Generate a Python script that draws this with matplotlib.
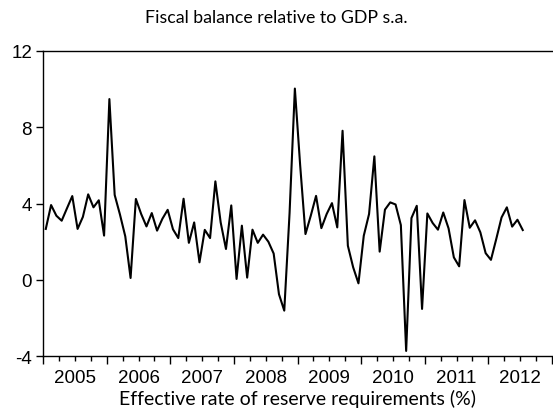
import numpy as np
import matplotlib.pyplot as plt
from matplotlib.ticker import FixedLocator, FixedFormatter

# monthly values, 2005M01 - 2012M07
start_year = 2005
values = [2.67, 3.92, 3.36, 3.10, 3.75, 4.39, 2.67, 3.30, 4.48, 3.80, 4.17, 2.32,
          9.47, 4.45, 3.42, 2.28, 0.10, 4.24, 3.45, 2.80, 3.50, 2.58, 3.20, 3.67,
          2.65, 2.19, 4.25, 1.94, 3.01, 0.92, 2.62, 2.19, 5.16, 3.01, 1.62, 3.90,
          0.05, 2.84, 0.12, 2.63, 1.94, 2.37, 2.00, 1.38, -0.75, -1.61, 3.50, 10.02,
          6.00, 2.40, 3.36, 4.40, 2.71, 3.45, 4.02, 2.75, 7.81, 1.79, 0.66, -0.18,
          2.31, 3.45, 6.47, 1.48, 3.68, 4.06, 3.95, 2.87, -3.72, 3.24, 3.88, -1.52,
          3.48, 2.98, 2.63, 3.53, 2.70, 1.18, 0.71, 4.18, 2.73, 3.12, 2.49, 1.40,
          1.05, 2.14, 3.27, 3.80, 2.79, 3.15, 2.61]
years = list(range(2005, 2013))
y_ticks = [-4, 0, 4, 8, 12]

title = 'Fiscal balance relative to GDP s.a.'
xlabel = 'Effective rate of reserve requirements (%)'

x = start_year + (np.arange(len(values)) + 0.5) / 12

fig = plt.figure(figsize=(5.53, 4.14), dpi=100)
ax = fig.add_axes([0.078, 0.137, 0.92, 0.738])

ax.plot(x, values, color='black', lw=1.5)

ax.set_xlim(2005, 2013)
ax.set_ylim(-4, 12)

ax.spines['right'].set_visible(False)
for s in ['left', 'bottom', 'top']:
    ax.spines[s].set_linewidth(1.0)

ax.set_yticks(y_ticks)
ax.set_yticklabels([str(v) for v in y_ticks], fontfamily='Liberation Sans', fontsize=13.5)
ax.tick_params(axis='y', direction='out', length=5, width=1, pad=3)

# year boundaries as major ticks, quarters as minor (labels at mid-year)
ax.xaxis.set_major_locator(FixedLocator(years + [2013]))
ax.xaxis.set_major_formatter(FixedFormatter([''] * (len(years) + 1)))
minor_pos = [y + q / 4 for y in years for q in (1, 2, 3)]
minor_lab = [str(y) if q == 2 else '' for y in years for q in (1, 2, 3)]
ax.xaxis.set_minor_locator(FixedLocator(minor_pos))
ax.xaxis.set_minor_formatter(FixedFormatter(minor_lab))
ax.tick_params(axis='x', which='major', direction='out', length=6, width=1)
ax.tick_params(axis='x', which='minor', direction='out', length=3.5, width=1, pad=6)
for lab in ax.get_xticklabels(minor=True):
    lab.set_fontfamily('Liberation Sans')
    lab.set_fontsize(13.5)

fig.text(0.5, 0.957, title, ha='center', va='center', fontfamily='Lato', fontsize=12.8)
ax.set_xlabel(xlabel, fontfamily='Lato', fontsize=14, labelpad=2)

fig.savefig('out.png', dpi=100)
